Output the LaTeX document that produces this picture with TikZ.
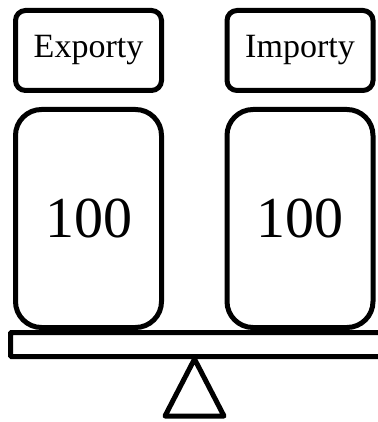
\documentclass[tikz,border=0pt]{standalone}
\usepackage{fontspec}
\setmainfont{Liberation Serif}
\begin{document}
\begin{tikzpicture}[x=1pt,y=-1pt,
  lbl/.style={draw,line width=5pt,rounded corners=10pt,minimum width=146pt,minimum height=80pt,inner sep=0pt,font=\fontsize{34}{40}\selectfont},
  val/.style={draw,line width=5pt,rounded corners=26pt,minimum width=146pt,minimum height=218pt,inner sep=0pt,font=\fontsize{58}{66}\selectfont},
  beam/.style={draw,line width=5pt,rounded corners=1pt,minimum width=372pt,minimum height=24pt,inner sep=0pt},
  pivot/.style={draw,line width=5pt,line join=round}]
\useasboundingbox (0,0) rectangle (377,422);
\node[lbl] (ex) at (88.5,50.5) {Exporty};
\node[lbl] (im) at (300,50.5) {Importy};
\node[val] (exv) at (88.5,218.5) {100};
\node[val] (imv) at (300,218.5) {100};
\node[beam] (bar) at (196.5,344.5) {};
\coordinate (tl) at (165,416);
\coordinate (tr) at (224,416);
\coordinate (apex) at (194.5,359);
\draw[pivot] (apex) -- (tr) -- (tl) -- cycle;
\end{tikzpicture}
\end{document}
